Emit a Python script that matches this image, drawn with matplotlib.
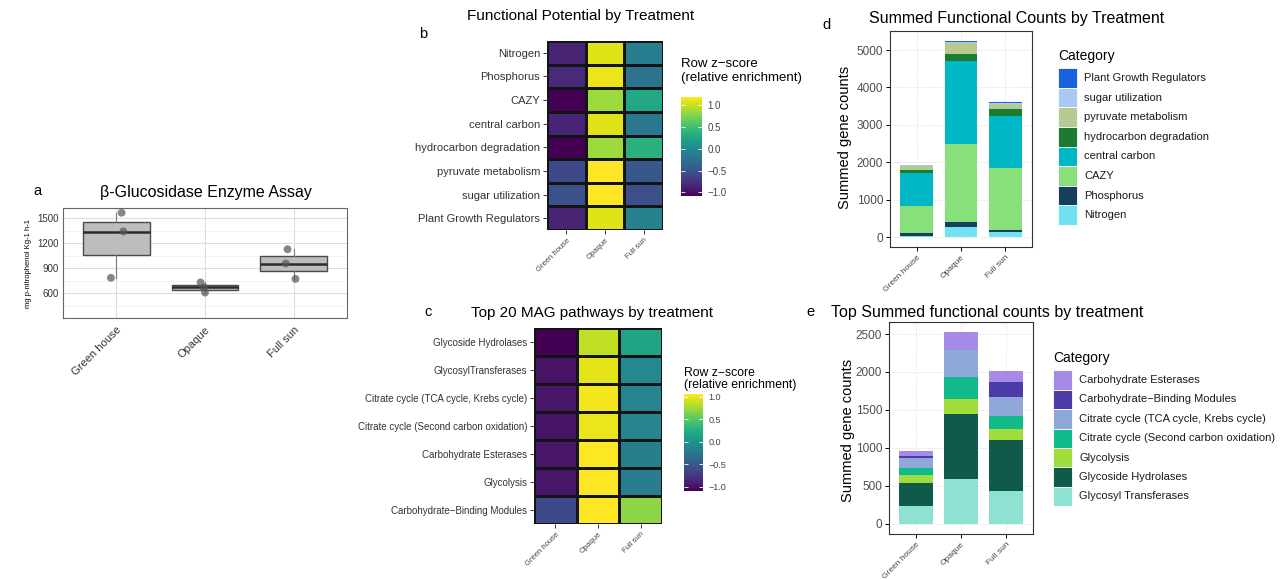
import numpy as np
import matplotlib
matplotlib.use("Agg")
import matplotlib.pyplot as plt
from matplotlib.colors import Normalize
from matplotlib.patches import Rectangle
from matplotlib.cm import ScalarMappable

plt.rcParams['font.family'] = ['Liberation Sans', 'DejaVu Sans']

W, H = 1281, 579

treatments = ["Green house", "Opaque", "Full sun"]

# a: enzyme assay replicates
assay_gh = [1563, 1338, 782]
assay_op = [727, 668, 605]
assay_fs = [1125, 954, 769]
assay_jitter = [[0.06, 0.08, -0.06], [-0.05, -0.01, 0.0], [-0.07, -0.09, 0.02]]

# b: row z-scores (Green house, Opaque, Full sun)
func_rows = ["Nitrogen", "Phosphorus", "CAZY", "central carbon", "hydrocarbon degradation",
             "pyruvate metabolism", "sugar utilization", "Plant Growth Regulators"]
func_z = [[-0.86, 1.08, -0.13],
          [-0.81, 1.12, -0.22],
          [-1.085, 0.85, 0.28],
          [-0.86, 1.08, -0.18],
          [-1.08, 0.85, 0.36],
          [-0.58, 1.19, -0.47],
          [-0.52, 1.19, -0.54],
          [-0.86, 1.08, -0.08]]

# c: MAG pathway z-scores
mag_rows = ["Glycoside Hydrolases", "GlycosylTransferases", "Citrate cycle (TCA cycle, Krebs cycle)",
            "Citrate cycle (Second carbon oxidation)", "Carbohydrate Esterases", "Glycolysis",
            "Carbohydrate\u2212Binding Modules"]
mag_z = [[-1.095, 0.85, 0.155],
         [-0.99, 0.97, -0.08],
         [-0.965, 1.02, -0.125],
         [-0.99, 1.0, -0.125],
         [-0.965, 1.06, -0.17],
         [-0.965, 1.06, -0.19],
         [-0.62, 1.06, 0.69]]

# d: summed gene counts (bottom to top of stack)
d_cats = ["Nitrogen", "Phosphorus", "CAZY", "central carbon", "hydrocarbon degradation",
          "pyruvate metabolism", "sugar utilization", "Plant Growth Regulators"]
d_counts = [[45, 265, 133],
            [60, 135, 60],
            [725, 2085, 1645],
            [885, 2220, 1405],
            [70, 195, 170],
            [115, 300, 140],
            [20, 20, 20],
            [15, 35, 45]]
d_colors = ["#72e2f0", "#163f5c", "#88e07a", "#00b7c5", "#1b7b30", "#b6c98f", "#a9c9f4", "#1763de"]

# e: top summed counts (bottom to top of stack)
e_cats = ["Glycosyl Transferases", "Glycoside Hydrolases", "Glycolysis",
          "Citrate cycle (Second carbon oxidation)", "Citrate cycle (TCA cycle, Krebs cycle)",
          "Carbohydrate\u2212Binding Modules", "Carbohydrate Esterases"]
e_counts = [[236, 591, 429],
            [298, 862, 674],
            [110, 197, 153],
            [87, 285, 167],
            [131, 359, 249],
            [31, 0, 202],
            [66, 236, 140]]
e_colors = ["#8fe2d2", "#0f5a48", "#a0dc3c", "#12b98b", "#8fa8d8", "#4b3ba9", "#a68be6"]


def px_axes(fig, left, top, right, bottom):
    return fig.add_axes([left / W, 1 - bottom / H, (right - left) / W, (bottom - top) / H])


def ftext(fig, x, y, s, **kw):
    fig.text(x / W, 1 - y / H, s, **kw)


fig = plt.figure(figsize=(W / 100, H / 100), dpi=100)
fig.patch.set_facecolor("white")

# ---- panel a: boxplot
ax = px_axes(fig, 63, 208, 347, 318)
data_a = [assay_gh, assay_op, assay_fs]
bp = ax.boxplot(data_a, positions=[1, 2, 3], widths=0.75, patch_artist=True,
                showfliers=False, showcaps=False, zorder=2)
for b in bp['boxes']:
    b.set(facecolor="#bdbdbd", edgecolor="#4a4a4a", linewidth=1.0)
for m in bp['medians']:
    m.set(color="#2b2b2b", linewidth=1.8)
for w in bp['whiskers']:
    w.set(color="#7a7a7a", linewidth=0.8)
for i, vals in enumerate(data_a):
    ax.scatter(np.array(assay_jitter[i]) + i + 1, vals, s=32, color="#555555",
               alpha=0.7, edgecolor="none", zorder=3)
ax.set_xlim(0.4, 3.6)
ax.set_ylim(300, 1620)
ax.set_yticks([600, 900, 1200, 1500])
ax.set_yticks([450, 750, 1050, 1350], minor=True)
ax.set_xticks([1, 2, 3])
ax.set_xticklabels(treatments, rotation=45, ha="right", rotation_mode="anchor", fontsize=8,
                   color="#333333")
ax.tick_params(axis="y", labelsize=7, colors="#333333", length=0, pad=3)
ax.tick_params(axis="y", which="minor", length=0)
ax.tick_params(axis="x", length=0, pad=5)
ax.grid(True, which="major", color="#dddddd", linewidth=0.8)
ax.grid(True, which="minor", axis="y", color="#eeeeee", linewidth=0.5)
ax.set_axisbelow(True)
for s in ax.spines.values():
    s.set_color("#666666")
    s.set_linewidth(0.8)
ax.set_ylabel("mg p-nitrophenol Kg-1 h-1", fontsize=5.5, labelpad=4)
ftext(fig, 206, 192, "\u03b2-Glucosidase Enzyme Assay", fontsize=11.5, ha="center", va="center")
ftext(fig, 37, 191, "a", fontsize=10.5, ha="center", va="center")


# ---- heatmaps
def heatmap(rect, rows, z, ylab_size, cbar_rect, cb_size):
    z = np.array(z)
    axh = px_axes(fig, *rect)
    norm = Normalize(vmin=z.min(), vmax=z.max())
    axh.pcolormesh(np.arange(4), np.arange(len(rows) + 1), z, cmap="viridis", norm=norm,
                   edgecolors="#141414", linewidth=0.8)
    axh.set_ylim(len(rows), 0)
    axh.set_xlim(0, 3)
    axh.set_yticks(np.arange(len(rows)) + 0.5)
    axh.set_yticklabels(rows, fontsize=ylab_size, color="#333333")
    axh.set_xticks(np.arange(3) + 0.5)
    axh.set_xticklabels(treatments, rotation=45, ha="right", rotation_mode="anchor",
                        fontsize=5.5, color="#444444")
    axh.tick_params(length=3, width=0.7, color="#333333", pad=2)
    for s in axh.spines.values():
        s.set_visible(False)
    cax = px_axes(fig, *cbar_rect)
    cb = fig.colorbar(ScalarMappable(norm=norm, cmap="viridis"), cax=cax)
    cb.outline.set_visible(False)
    cb.set_ticks([-1.0, -0.5, 0.0, 0.5, 1.0])
    cb.set_ticklabels(["\u22121.0", "\u22120.5", "0.0", "0.5", "1.0"])
    cax.yaxis.set_ticks_position("both")
    cax.tick_params(direction="in", color="white", length=3, width=0.6, labelsize=cb_size,
                    labelcolor="#444444", pad=4, labelleft=False, labelright=True)
    return axh


heatmap((547, 41, 663, 230), func_rows, func_z, 8, (681, 97, 702, 196), 7)
ftext(fig, 681, 71, "Row z\u2212score\n(relative enrichment)", fontsize=9.5, ha="left",
      va="center", linespacing=1.15)
ftext(fig, 581, 16, "Functional Potential by Treatment", fontsize=11, ha="center", va="center")
ftext(fig, 423, 34, "b", fontsize=10.5, ha="center", va="center")

heatmap((534, 328, 662, 524), mag_rows, mag_z, 7, (684, 394, 703, 491), 6.5)
ftext(fig, 684, 379, "Row z\u2212score\n(relative enrichment)", fontsize=8.8, ha="left",
      va="center", linespacing=1.05)
ftext(fig, 592, 313, "Top 20 MAG pathways by treatment", fontsize=11, ha="center", va="center")
ftext(fig, 428, 312, "c", fontsize=10.5, ha="center", va="center")


# ---- stacked bars
def stacked(rect, cats, counts, colors, ylim, yticks):
    axb = px_axes(fig, *rect)
    x = np.arange(1, 4)
    bottom = np.zeros(3)
    for cat, vals, col in zip(cats, counts, colors):
        axb.bar(x, vals, width=0.74, bottom=bottom, color=col, label=cat, zorder=2)
        bottom += np.array(vals)
    axb.set_xlim(0.4, 3.6)
    axb.set_ylim(*ylim)
    axb.set_yticks(yticks)
    axb.set_xticks(x)
    axb.set_xticklabels(treatments, rotation=45, ha="right", rotation_mode="anchor",
                        fontsize=6, color="#444444")
    axb.tick_params(axis="y", labelsize=8.5, labelcolor="#4d4d4d", length=3, width=0.7, pad=2)
    axb.tick_params(axis="x", length=3, width=0.7, pad=2)
    axb.grid(True, color="#e3e3e3", linewidth=0.6, linestyle=(0, (2, 1.5)))
    axb.set_axisbelow(True)
    for s in axb.spines.values():
        s.set_color("#333333")
        s.set_linewidth(0.8)
    return axb


def legend_px(x, title_y, first_center, step, labels, colors):
    # ggplot-style legend: title, then stacked square keys with labels
    ftext(fig, x, title_y, "Category", fontsize=10, ha="left", va="center")
    for i, (lab, col) in enumerate(zip(labels, colors)):
        cy = first_center + i * step
        fig.patches.append(Rectangle((x / W, 1 - (cy + step / 2) / H), 19 / W, step / H,
                                     transform=fig.transFigure, facecolor=col,
                                     edgecolor="white", linewidth=0.6))
        ftext(fig, x + 26, cy, lab, fontsize=8, ha="left", va="center", color="#1a1a1a")


stacked((890, 31, 1032, 247), d_cats, d_counts, d_colors, (-262, 5509),
        [0, 1000, 2000, 3000, 4000, 5000])
ftext(fig, 845, 137, "Summed gene counts", fontsize=10.5, rotation=90, ha="center", va="center")
ftext(fig, 1017, 18, "Summed Functional Counts by Treatment", fontsize=11.5, ha="center",
      va="center")
ftext(fig, 826, 25, "d", fontsize=10.5, ha="center", va="center")
legend_px(1058, 56, 78, 19.6, d_cats[::-1], d_colors[::-1])

stacked((889, 322, 1033, 534), e_cats, e_counts, e_colors, (-132, 2658),
        [0, 500, 1000, 1500, 2000, 2500])
ftext(fig, 848, 430, "Summed gene counts", fontsize=10.5, rotation=90, ha="center", va="center")
ftext(fig, 987, 313, "Top Summed functional counts by treatment", fontsize=11.5, ha="center",
      va="center")
ftext(fig, 810, 312, "e", fontsize=10.5, ha="center", va="center")
legend_px(1053, 358, 380, 19.4, e_cats[::-1], e_colors[::-1])

fig.savefig("out.png", dpi=100)
